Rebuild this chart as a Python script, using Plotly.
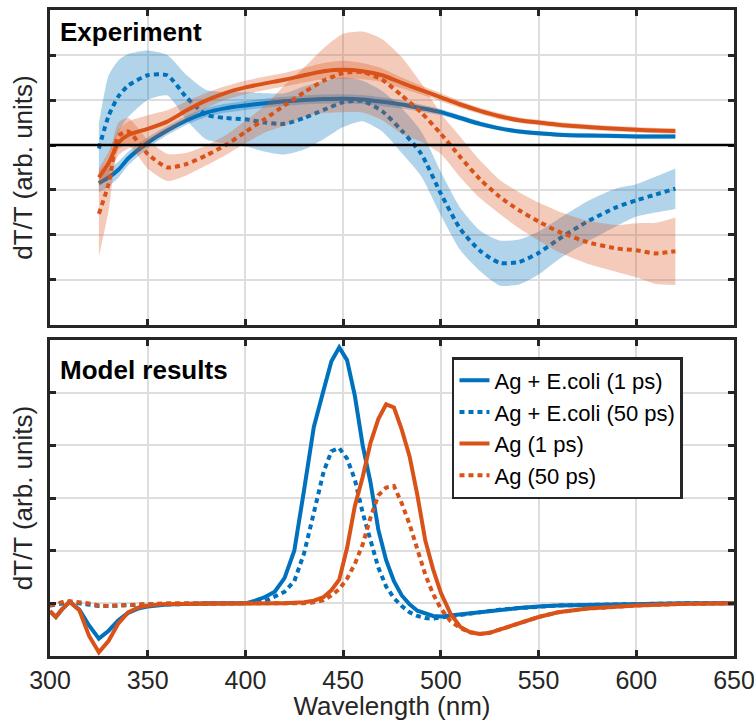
import plotly.graph_objects as go

# ---------------- data ----------------
x_exp = [325, 330, 335, 340, 350, 360, 370, 380, 390, 400, 410, 420, 430, 440, 450, 460,
         470, 480, 490, 500, 510, 520, 530, 540, 550, 560, 575, 590, 600, 610, 620]

exp_ecoli_1ps = [-0.85, -0.72, -0.55, -0.3, 0.05, 0.32, 0.55, 0.72, 0.82, 0.88, 0.93, 0.97, 1.0, 1.02, 1.03, 1.01,
                 0.96, 0.9, 0.82, 0.73, 0.6, 0.47, 0.37, 0.3, 0.26, 0.23, 0.21, 0.2, 0.19, 0.19, 0.19]
exp_ecoli_1ps_err = [0.2, 0.2, 0.18, 0.15, 0.12, 0.1, 0.1, 0.1, 0.1, 0.1, 0.1, 0.1, 0.1, 0.1, 0.1, 0.1,
                     0.1, 0.09, 0.08, 0.07, 0.06, 0.06, 0.05, 0.05, 0.05, 0.05, 0.05, 0.05, 0.05, 0.05, 0.05]

exp_ecoli_50ps = [-0.08, 0.65, 1.08, 1.32, 1.55, 1.55, 1.05, 0.67, 0.6, 0.57, 0.5, 0.47, 0.6, 0.78, 0.95, 0.98,
                  0.75, 0.32, -0.2, -1.08, -1.87, -2.35, -2.62, -2.6, -2.4, -2.1, -1.7, -1.38, -1.23, -1.1, -0.97]
exp_ecoli_50ps_err = [0.55, 0.9, 0.8, 0.7, 0.55, 0.45, 0.5, 0.55, 0.57, 0.6, 0.65, 0.68, 0.7, 0.65, 0.55, 0.45,
                      0.45, 0.5, 0.5, 0.48, 0.47, 0.45, 0.5, 0.5, 0.48, 0.45, 0.45, 0.42, 0.36, 0.4, 0.45]

exp_ag_1ps = [-0.72, -0.4, 0.05, 0.22, 0.36, 0.52, 0.77, 0.99, 1.16, 1.28, 1.37, 1.45, 1.55, 1.64, 1.67, 1.64,
              1.55, 1.38, 1.22, 1.06, 0.9, 0.76, 0.64, 0.55, 0.5, 0.45, 0.4, 0.36, 0.34, 0.32, 0.31]
exp_ag_1ps_err = [0.2, 0.25, 0.28, 0.3, 0.3, 0.25, 0.2, 0.17, 0.15, 0.15, 0.15, 0.15, 0.16, 0.18, 0.2, 0.18,
                  0.15, 0.12, 0.1, 0.09, 0.08, 0.07, 0.07, 0.06, 0.06, 0.06, 0.06, 0.06, 0.06, 0.06, 0.06]

exp_ag_50ps = [-1.53, -0.86, 0.2, 0.3, -0.2, -0.5, -0.42, -0.23, 0.0, 0.29, 0.58, 0.88, 1.17, 1.43, 1.6, 1.62,
               1.45, 1.1, 0.72, 0.25, -0.27, -0.76, -1.15, -1.45, -1.7, -1.92, -2.16, -2.3, -2.34, -2.41, -2.36]
exp_ag_50ps_err = [0.95, 0.6, 0.3, 0.3, 0.32, 0.3, 0.25, 0.22, 0.22, 0.25, 0.3, 0.45, 0.55, 0.72, 0.87, 0.9,
                   0.9, 0.85, 0.65, 0.45, 0.45, 0.42, 0.38, 0.4, 0.42, 0.45, 0.48, 0.52, 0.6, 0.68, 0.75]

x_model = [300, 303, 306, 310, 315, 320, 325, 330, 335, 340, 345, 350, 360, 380, 400, 405, 410, 415, 420, 425,
           430, 435, 440, 444, 448, 452, 456, 460, 464, 468, 472, 476, 480, 484, 488, 492, 496, 500, 505, 510,
           515, 520, 525, 530, 540, 550, 560, 575, 600, 625, 650]

model_ecoli_1ps = [-0.15, -0.26, -0.12, 0.03, -0.12, -0.42, -0.67, -0.52, -0.32, -0.18, -0.1, -0.06, -0.02, 0.0, 0.0,
                   0.05, 0.12, 0.22, 0.48, 1.0, 2.15, 3.35, 4.05, 4.6, 4.86, 4.62, 3.94, 3.0, 2.3, 1.4,
                   0.82, 0.42, 0.15, -0.02, -0.14, -0.2, -0.24, -0.25, -0.23, -0.21, -0.18, -0.16, -0.14, -0.12,
                   -0.09, -0.06, -0.04, -0.03, -0.01, 0.0, 0.0]
model_ecoli_50ps = [-0.04, -0.02, 0.0, 0.02, 0.0, -0.02, -0.05, -0.05, -0.04, -0.03, -0.02, -0.02, -0.02, -0.01, 0.0,
                    0.01, 0.04, 0.12, 0.22, 0.42, 0.95, 1.72, 2.5, 2.89, 2.95, 2.75, 2.35, 1.72, 1.18, 0.68,
                    0.32, 0.1, -0.05, -0.17, -0.24, -0.28, -0.29, -0.27, -0.24, -0.21, -0.18, -0.16, -0.14, -0.12,
                    -0.09, -0.06, -0.04, -0.03, -0.01, 0.0, 0.0]
model_ag_1ps = [-0.15, -0.26, -0.12, 0.03, -0.13, -0.62, -0.93, -0.71, -0.38, -0.17, -0.08, -0.04, -0.01, 0.0, 0.0,
                0.0, 0.0, 0.0, 0.0, 0.01, 0.02, 0.05, 0.12, 0.25, 0.45, 1.05, 1.85, 2.4, 3.05, 3.5,
                3.78, 3.72, 3.3, 2.79, 2.05, 1.2, 0.65, 0.2, -0.2, -0.45, -0.55, -0.58, -0.56, -0.5,
                -0.38, -0.26, -0.17, -0.1, -0.04, -0.01, 0.0]
model_ag_50ps = [-0.04, -0.01, 0.02, 0.04, 0.02, 0.0, -0.04, -0.05, -0.04, -0.03, -0.02, -0.01, 0.0, 0.0, 0.0,
                 0.0, 0.0, 0.0, 0.0, 0.0, 0.0, 0.02, 0.06, 0.15, 0.27, 0.47, 0.75, 1.12, 1.63, 2.05,
                 2.2, 2.23, 1.9, 1.5, 1.02, 0.55, 0.18, -0.1, -0.34, -0.47, -0.55, -0.58, -0.56, -0.5,
                 -0.38, -0.26, -0.17, -0.1, -0.04, -0.01, 0.0]

legend_names = ["Ag + E.coli (1 ps)", "Ag + E.coli (50 ps)", "Ag (1 ps)", "Ag (50 ps)"]
x_ticks = [300, 350, 400, 450, 500, 550, 600, 650]

# ---------------- style ----------------
BLUE = "#0072BD"
ORANGE = "#D95319"
BLUE_FILL = "rgba(0,114,189,0.3)"
ORANGE_FILL = "rgba(217,83,25,0.3)"
AX = "#262626"
GRID = "#dedede"
FONT = "Liberation Sans, Arial, sans-serif"
DOT = "5px,4px"

fig = go.Figure()

exp_series = [
    (exp_ecoli_1ps, exp_ecoli_1ps_err, BLUE, BLUE_FILL, "solid"),
    (exp_ecoli_50ps, exp_ecoli_50ps_err, BLUE, BLUE_FILL, DOT),
    (exp_ag_1ps, exp_ag_1ps_err, ORANGE, ORANGE_FILL, "solid"),
    (exp_ag_50ps, exp_ag_50ps_err, ORANGE, ORANGE_FILL, DOT),
]
for mean, err, col, fill, dash in exp_series:
    lo = [m - e for m, e in zip(mean, err)]
    hi = [m + e for m, e in zip(mean, err)]
    fig.add_trace(go.Scatter(x=x_exp, y=lo, mode="lines", line=dict(width=0, shape="spline", smoothing=0.6),
                             showlegend=False, hoverinfo="skip", xaxis="x", yaxis="y"))
    fig.add_trace(go.Scatter(x=x_exp, y=hi, mode="lines", line=dict(width=0, shape="spline", smoothing=0.6),
                             fill="tonexty", fillcolor=fill, showlegend=False, hoverinfo="skip",
                             xaxis="x", yaxis="y"))
    fig.add_trace(go.Scatter(x=x_exp, y=mean, mode="lines",
                             line=dict(color=col, width=4, dash=dash, shape="spline", smoothing=0.6),
                             showlegend=False, xaxis="x", yaxis="y"))

model_series = [
    (model_ecoli_1ps, BLUE, "solid"),
    (model_ecoli_50ps, BLUE, DOT),
    (model_ag_1ps, ORANGE, "solid"),
    (model_ag_50ps, ORANGE, DOT),
]
for (vals, col, dash), name in zip(model_series, legend_names):
    fig.add_trace(go.Scatter(x=x_model, y=vals, mode="lines", name=name,
                             line=dict(color=col, width=4, dash=dash),
                             xaxis="x2", yaxis="y2"))

# zero line in the experiment panel
fig.add_shape(type="line", xref="x domain", yref="y", x0=0, x1=1, y0=0, y1=0,
              line=dict(color="black", width=2.5), layer="above")

axis_common = dict(showline=True, linecolor=AX, linewidth=2.5, mirror="ticks",
                   ticks="inside", ticklen=6, tickwidth=2.5, tickcolor=AX,
                   showgrid=True, gridcolor=GRID, gridwidth=2, zeroline=False,
                   automargin=False)

fig.update_layout(
    width=754, height=721,
    margin=dict(l=50, r=20, t=10, b=65),
    paper_bgcolor="white", plot_bgcolor="white",
    font=dict(family=FONT, color=AX, size=25),
    xaxis=dict(domain=[0, 1], anchor="y", range=[300, 650], tickvals=x_ticks,
               showticklabels=False, **axis_common),
    yaxis=dict(domain=[0.5124, 1], anchor="x", range=[-4, 3], dtick=1, showticklabels=False,
               title=dict(text="dT/T (arb. units)", font=dict(size=26, color=AX), standoff=8),
               **axis_common),
    xaxis2=dict(domain=[0, 1], anchor="y2", range=[300, 650], tickvals=x_ticks,
                tickfont=dict(size=25, color=AX), ticklabeloverflow="allow",
                title=dict(text="Wavelength (nm)", font=dict(size=26, color=AX), standoff=7),
                **axis_common),
    yaxis2=dict(domain=[0, 0.489], anchor="x2", range=[-1, 5], dtick=1, showticklabels=False,
                title=dict(text="dT/T (arb. units)", font=dict(size=26, color=AX), standoff=8),
                **axis_common),
    legend=dict(x=0.5877, y=0.4628, xref="paper", yref="paper", xanchor="left", yanchor="top",
                bgcolor="white", bordercolor=AX, borderwidth=2.5, traceorder="normal",
                font=dict(size=22, color="black", family=FONT), itemwidth=30,
                tracegroupgap=0),
    annotations=[
        dict(text="<b>Experiment</b>", xref="x domain", yref="y domain", x=0.012, y=0.985,
             xanchor="left", yanchor="top", showarrow=False,
             font=dict(size=26, color="black", family=FONT)),
        dict(text="<b>Model results</b>", xref="x2 domain", yref="y2 domain", x=0.012, y=0.96,
             xanchor="left", yanchor="top", showarrow=False,
             font=dict(size=26, color="black", family=FONT)),
    ],
)

fig.write_html("out.html", config={"displayModeBar": False},
               post_script="document.body.style.margin='0px';document.body.style.overflow='hidden';")
